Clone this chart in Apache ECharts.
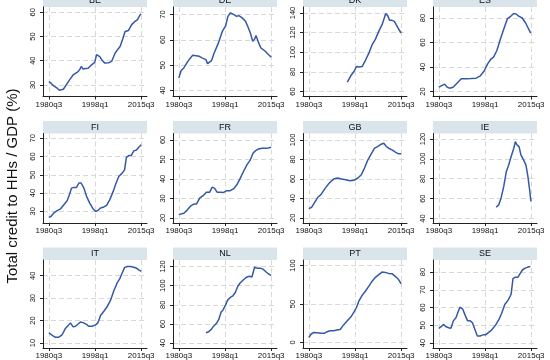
<!DOCTYPE html>
<html><head><meta charset="utf-8">
<script src="https://cdn.jsdelivr.net/npm/echarts@6/dist/echarts.min.js"></script>
<style>html,body{margin:0;padding:0;background:#fff}#c{width:550px;height:360px}</style>
</head><body><div id="c"></div><script>
const countries = ['BE','DE','DK','ES','FI','FR','GB','IE','IT','NL','PT','SE'];
const xTickValues = [1980.5, 1998.0, 2015.5];
const xTickLabels = ['1980q3','1998q1','2015q3'];
const yTitle = 'Total credit to HHs / GDP (%)';

const BE = [[1980.5,31.4],[1981.5,30.5],[1982.5,29.5],[1983.5,28.8],[1984.5,27.8],[1985.2,27.6],[1986,28.2],[1987.1,30],[1988.5,32.3],[1989.7,34.1],[1990.6,34.8],[1991.6,35.5],[1992.3,36.5],[1992.8,37.6],[1993.5,36.6],[1994.5,36.8],[1995.4,36.9],[1996.7,38.3],[1997.9,39.3],[1998.6,42.5],[1998.95,43.1],[1999.8,41.7],[2000.8,40],[2001.75,39],[2002.4,38.7],[2003.3,39.2],[2004.3,39.7],[2005,41.5],[2005.6,43.1],[2006.5,44.5],[2007.5,45.9],[2008.5,49],[2009.4,52.1],[2010.7,52.5],[2011.9,54.9],[2013.2,56.3],[2014.1,57],[2015.1,59],[2015.5,59.3]];
const DE = [[1980.5,44.9],[1981.4,47.9],[1982.4,48.9],[1983.9,51.5],[1985.75,53.9],[1987,53.7],[1988.25,53.5],[1989.5,52.8],[1990.75,52.2],[1991.4,50.6],[1992.9,51.8],[1993.9,54.8],[1995.4,58.5],[1997,63.4],[1998.25,65.6],[1999.1,69.3],[2000.1,70.7],[2001.4,70],[2002.4,69.3],[2003.25,69.6],[2004.5,68.7],[2005.75,67.4],[2006.6,65.4],[2007.6,62.7],[2008.5,59.4],[2009.25,60.4],[2009.75,61.7],[2010.75,58.8],[2011.6,56.8],[2013.25,55.5],[2014.5,54.1],[2015.5,53.2]];
const DK = [[1995.1,69.5],[1996.4,76],[1997.6,80.4],[1998.6,85.5],[1999.5,84.9],[2000.75,85.5],[2001.75,90.6],[2003.25,99.1],[2004.5,107.7],[2005.75,113.4],[2007,121.3],[2008.25,128.1],[2009.1,134.9],[2009.6,139.3],[2010.4,137.3],[2011.1,132.5],[2012,132.5],[2012.9,131.5],[2013.6,128.1],[2014.5,123.7],[2015.5,119.6]];
const ES = [[1980.5,23.5],[1981.4,24.6],[1982.7,26],[1983.7,23.5],[1984.6,22.7],[1985.9,23.5],[1987.4,26.8],[1989,30.4],[1990.9,30.4],[1992.75,30.6],[1994.6,30.9],[1996.25,32.8],[1997.75,36.9],[1999,42.6],[2000.25,46.5],[2001.25,48.1],[2002.5,53.5],[2003.75,62.3],[2005.25,71.8],[2006.5,79.5],[2007.75,81.4],[2008.75,83.5],[2009.6,83.5],[2010.9,81.4],[2012.1,80],[2013.4,75.9],[2015.3,67.7]];
const FI = [[1980.5,26.7],[1981.4,27.3],[1982.4,29.1],[1983.7,30.4],[1984.9,31.3],[1986.2,33.6],[1987.45,35.8],[1988.3,39.1],[1989.1,42.7],[1990,43.1],[1991,43.1],[1991.9,45.5],[1992.75,45.5],[1993.8,42.7],[1994.8,38.2],[1996,34.5],[1997.3,31.3],[1998.2,30],[1999.1,30.4],[2000.1,31.8],[2001.35,32.4],[2002.4,33.3],[2003.6,36.4],[2004.9,40.9],[2005.75,44.5],[2007,49.1],[2008.3,50.9],[2009.2,52.7],[2009.9,59.5],[2010.8,60.5],[2011.7,60.5],[2012.7,63.1],[2013.7,63.6],[2014.6,65.1],[2015.5,66.4]];
const FR = [[1980.5,21.7],[1981.1,22.6],[1982.4,22.4],[1983.6,23.9],[1984.9,26],[1986.2,27.1],[1987.2,27.1],[1988.4,30.2],[1989.7,31.4],[1990.95,33.2],[1992.2,33.2],[1993.1,35.7],[1994,35.3],[1995,33.2],[1996.2,33.2],[1997.5,33.1],[1998.75,34],[2000,34],[2001.3,35],[2002.5,37],[2003.8,40.4],[2005,43.8],[2006.3,47.2],[2007.6,49.8],[2008.6,53.2],[2009.5,54.4],[2010.7,55.4],[2012,55.7],[2013.3,55.7],[2014.5,55.9],[2015.5,56.3]];
const GB = [[1980.5,29.5],[1981.6,30.9],[1982.6,35.3],[1983.9,41.1],[1985.1,43.8],[1986.6,50],[1988.25,55.7],[1989.9,59.8],[1991.4,60.9],[1992.9,59.8],[1994.5,59.1],[1996.1,58.1],[1997.6,58.5],[1999.1,60.9],[2000.4,64.3],[2001.6,71.1],[2002.9,79.6],[2004.1,85.4],[2005.4,91.5],[2006.6,93.2],[2007.9,95.6],[2008.9,96.6],[2009.9,93.2],[2010.75,91.5],[2012,89.8],[2013.3,87.4],[2014.5,85.7],[2015.5,85.7]];
const IE = [[2002.25,51.3],[2003.25,54],[2004.1,60.7],[2005.1,72.3],[2006.1,87.3],[2007,94],[2007.9,102.3],[2008.9,110.7],[2009.5,117.3],[2010.1,114],[2010.9,112.3],[2011.6,104],[2012.6,99],[2013.5,94],[2014.25,82.3],[2014.9,69],[2015.4,57.3]];
const IT = [[1980.5,14.6],[1981.2,14.3],[1982.1,13.2],[1983,12.6],[1984.3,12.6],[1985.5,13.6],[1986.8,16.5],[1988,18],[1988.7,19],[1989.7,17.2],[1990.6,17.5],[1991.5,18.4],[1992.5,19.4],[1993.5,19.1],[1994.8,18.3],[1995.6,17.5],[1996.9,17.5],[1998.2,18.1],[1999.1,19],[2000.1,22.3],[2001.35,24.2],[2002.6,26.2],[2003.9,29.1],[2005.1,33.2],[2006.4,36.8],[2007.4,38.7],[2008.3,41.2],[2009.2,43.6],[2010.2,44.1],[2011.5,44.1],[2012.7,43.8],[2013.8,43.3],[2014.6,42.6],[2015.5,41.9]];
const NL = [[1990.8,50.9],[1991.8,51.9],[1992.8,54.3],[1993.7,57.7],[1994.7,60.4],[1995.6,64.5],[1996.5,72.3],[1997.25,74.7],[1998.1,79.1],[1999,84.9],[2000,87.7],[2001,89.4],[2001.9,92.8],[2002.9,99.6],[2003.8,103],[2005.1,106.4],[2006.3,109.1],[2007.3,109.8],[2008.2,109.1],[2009.2,119.3],[2010.1,118.3],[2011.35,118.3],[2012.4,117.3],[2013.6,114.3],[2014.5,112.2],[2015.5,110.8]];
const PT = [[1980.5,6.4],[1981.4,11],[1982.4,13.1],[1983.6,12.7],[1985.1,11.9],[1986.4,11.9],[1987.4,14],[1988.6,15.3],[1989.9,15.3],[1991.1,16.1],[1992.4,16.9],[1993.6,22.5],[1994.9,27.5],[1996.4,33],[1997.6,39.4],[1998.6,45.8],[1999.5,54.2],[2000.75,61.4],[2002,66.9],[2003.25,73.3],[2004.5,79.7],[2005.75,84.7],[2007,88.1],[2008.25,91.5],[2009.5,91.1],[2010.75,89.8],[2012,89.4],[2013.25,86],[2014.5,81.8],[2015.5,76.3]];
const SE = [[1980.5,48.3],[1981.4,49.2],[1982.25,50.5],[1983.25,49.2],[1984.25,48.6],[1985.1,48.3],[1986,52.5],[1987,54.3],[1987.75,57.4],[1988.5,60.2],[1989.5,59.3],[1990.5,55.6],[1991.4,52.5],[1992.4,52.5],[1993.25,51.4],[1994.25,47.3],[1995.1,44],[1996.1,44],[1997.25,44.6],[1998.25,44.6],[1999.25,45.9],[2000.5,47.3],[2002,50.1],[2003.25,53.2],[2004.25,56.5],[2005.5,61.7],[2006.75,64.2],[2007.9,67.5],[2008.6,76.3],[2009.5,77.1],[2010.5,77.1],[2011.4,79.4],[2012.25,81.3],[2013.25,82.2],[2014.25,82.8],[2015.2,83.1]];

const yTicksBE = [30,40,50,60];
const yTicksDE = [40,50,60,70];
const yTicksDK = [60,80,100,120,140];
const yTicksES = [20,40,60,80];
const yTicksFI = [30,40,50,60,70];
const yTicksFR = [20,30,40,50,60];
const yTicksGB = [20,40,60,80,100];
const yTicksIE = [40,60,80,100,120];
const yTicksIT = [10,20,30,40];
const yTicksNL = [40,60,80,100,120];
const yTicksPT = [0,50,100];
const yTicksSE = [40,50,60,70,80];

const yRangeBE = [25.2, 62.2];
const yRangeDE = [37.6, 73.0];
const yRangeDK = [54.9, 146.1];
const yRangeES = [15.9, 89.0];
const yRangeFI = [23.6, 72.6];
const yRangeFR = [17.4, 63.3];
const yRangeGB = [14.7, 106.6];
const yRangeIE = [35.5, 125.5];
const yRangeIT = [7.8, 47.0];
const yRangeNL = [34.9, 126.8];
const yRangePT = [-7.2, 107.2];
const yRangeSE = [37.2, 86.8];

const seriesData = {BE, DE, DK, ES, FI, FR, GB, IE, IT, NL, PT, SE};
const yTicks = {BE:yTicksBE, DE:yTicksDE, DK:yTicksDK, ES:yTicksES, FI:yTicksFI, FR:yTicksFR, GB:yTicksGB, IE:yTicksIE, IT:yTicksIT, NL:yTicksNL, PT:yTicksPT, SE:yTicksSE};
const yRanges = {BE:yRangeBE, DE:yRangeDE, DK:yRangeDK, ES:yRangeES, FI:yRangeFI, FR:yRangeFR, GB:yRangeGB, IE:yRangeIE, IT:yRangeIT, NL:yRangeNL, PT:yRangePT, SE:yRangeSE};

const FONT = 'Liberation Sans, Arial, sans-serif';
const LINE = '#3559a6';
const STRIP = '#d9e5eb';
const GRIDC = '#d8d8d8';
const colLeft = [43, 173, 303, 433];
const rowTop = [7, 133.5, 260];
const W = 104, H = 89.5, SH = 12.5;

const grids = [], xAxes = [], yAxes = [], series = [], graphics = [];
countries.forEach((c, i) => {
  const col = i % 4, row = Math.floor(i / 4);
  const left = colLeft[col], top = rowTop[row];
  grids.push({left: left, top: top, width: W, height: H, containLabel: false});
  xAxes.push({
    type: 'value', gridIndex: i, min: 1978.3, max: 2017.7,
    axisLine: {show: true, onZero: false, lineStyle: {color: '#222', width: 1}},
    axisTick: {show: true, length: 3, customValues: xTickValues, lineStyle: {color: '#222'}},
    axisLabel: {customValues: xTickValues, fontSize: 8, color: '#111', margin: 4, fontFamily: FONT,
      formatter: v => xTickLabels[xTickValues.indexOf(v)] || ''},
    splitLine: {show: true, lineStyle: {color: GRIDC, type: [5, 3], width: 1}}
  });
  const yr = yRanges[c];
  yAxes.push({
    type: 'value', gridIndex: i, min: yr[0], max: yr[1],
    axisLine: {show: true, onZero: false, lineStyle: {color: '#222', width: 1}},
    axisTick: {show: true, length: 3, customValues: yTicks[c], lineStyle: {color: '#222'}},
    axisLabel: {customValues: yTicks[c], fontSize: 7.5, color: '#111', margin: 6, rotate: 90, fontFamily: FONT},
    splitLine: {show: true, lineStyle: {color: GRIDC, type: [5, 3], width: 1}}
  });
  series.push({
    type: 'line', xAxisIndex: i, yAxisIndex: i, data: seriesData[c],
    showSymbol: false, symbol: 'none', smooth: false, animation: false,
    lineStyle: {color: LINE, width: 1.5}
  });
  graphics.push({type: 'rect', shape: {x: left, y: top - SH, width: W, height: SH}, style: {fill: STRIP}, silent: true});
  graphics.push({type: 'text', x: left + W / 2, y: top - SH / 2, style: {text: c, font: '9px ' + FONT, fill: '#111', textAlign: 'center', textVerticalAlign: 'middle'}, silent: true});
});
graphics.push({type: 'text', x: 13, y: 186, rotation: Math.PI / 2,
  style: {text: yTitle, font: '15px ' + FONT, fill: '#111', textAlign: 'center', textVerticalAlign: 'middle'}, silent: true});

const chart = echarts.init(document.getElementById('c'), null, {renderer: 'canvas'});
chart.setOption({
  animation: false, backgroundColor: '#fff',
  grid: grids, xAxis: xAxes, yAxis: yAxes, series: series, graphic: graphics
});
</script></body></html>
